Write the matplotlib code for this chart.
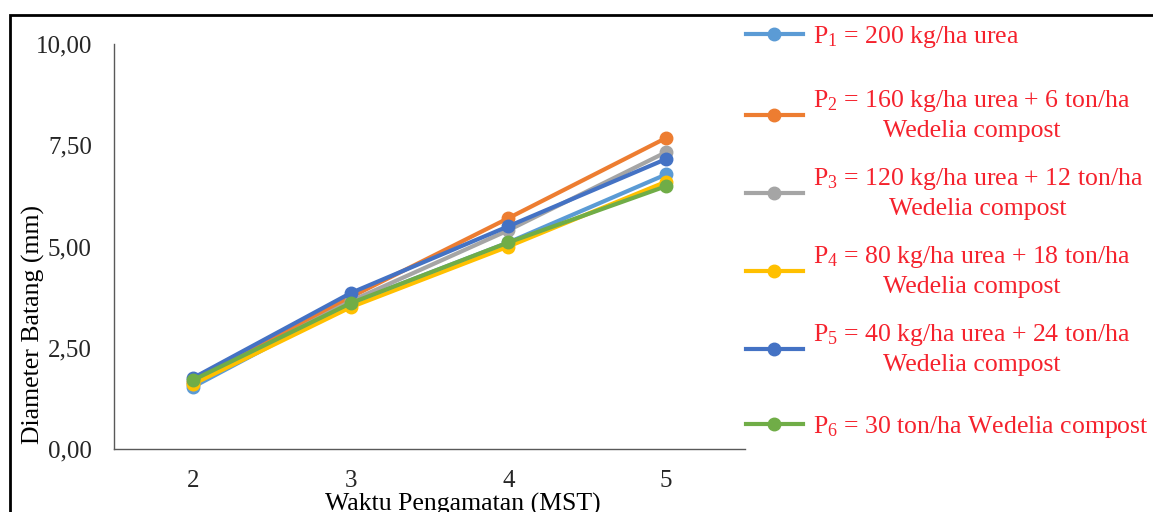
import numpy as np
import matplotlib.pyplot as plt
from matplotlib.patches import Rectangle

plt.rcParams['font.family'] = ['Liberation Serif', 'DejaVu Serif']
plt.rcParams['mathtext.fontset'] = 'custom'
plt.rcParams['mathtext.rm'] = 'Liberation Serif'
plt.rcParams['mathtext.it'] = 'Liberation Serif:italic'
plt.rcParams['mathtext.default'] = 'rm'

# data
weeks = ["2", "3", "4", "5"]
p1 = [1.53, 3.60, 5.10, 6.78]
p2 = [1.65, 3.75, 5.70, 7.68]
p3 = [1.60, 3.65, 5.40, 7.33]
p4 = [1.60, 3.50, 5.00, 6.60]
p5 = [1.75, 3.85, 5.50, 7.16]
p6 = [1.70, 3.60, 5.10, 6.49]
yticks = [0, 2.5, 5, 7.5, 10]
labels = ["P$_1$ = 200 kg/ha urea",
          "P$_2$ = 160 kg/ha urea + 6 ton/ha\nWedelia compost",
          "P$_3$ = 120 kg/ha urea + 12 ton/ha\nWedelia compost",
          "P$_4$ = 80 kg/ha urea + 18 ton/ha\nWedelia compost",
          "P$_5$ = 40 kg/ha urea + 24 ton/ha\nWedelia compost",
          "P$_6$ = 30 ton/ha Wedelia compost"]
colors = ["#5B9BD5", "#ED7D31", "#A5A5A5", "#FFC000", "#4472C4", "#70AD47"]

fig = plt.figure(figsize=(11.53, 5.12), dpi=100)
ax = fig.add_axes([114/1153, 63/512, 631/1153, 405/512])

x = np.arange(len(weeks))
handles = []
for vals, c in zip([p1, p2, p3, p4, p5, p6], colors):
    h, = ax.plot(x, vals, '-o', color=c, lw=3, ms=9)
    handles.append(h)

ax.set_xlim(-0.5, len(weeks) - 0.5)
ax.set_ylim(0, 10)
ax.set_xticks(x)
ax.set_xticklabels(weeks)
ax.set_yticks(yticks)
ax.set_yticklabels([f"{v:.2f}".replace('.', ',') for v in yticks])
ax.tick_params(length=0, labelsize=18, colors='#262626')
ax.tick_params(axis='x', pad=15)
ax.tick_params(axis='y', pad=16)
for s in ['top', 'right']:
    ax.spines[s].set_visible(False)
for s in ['left', 'bottom']:
    ax.spines[s].set_color('#595959')
    ax.spines[s].set_linewidth(1)

ax.set_xlabel("Waktu Pengamatan (MST)", fontsize=18.5)
ax.xaxis.set_label_coords((463 - 114) / 631, -(493 - 449) / 405)
ax.xaxis.label.set_va('top')
ax.set_ylabel("Diameter Batang (mm)", fontsize=18.5)
ax.yaxis.set_label_coords(-(114 - 45) / 631, (449 - 325) / 405)

# legend: one entry per slot, evenly spaced like the original
for i, (h, lab) in enumerate(zip(handles, labels)):
    yc = 1 - (37 + 78 * i) / 512
    leg = fig.legend([h], [lab], loc='center left',
                     bbox_to_anchor=(746/1153, yc), frameon=False,
                     fontsize=18.5, handlelength=2.2, handletextpad=0.4,
                     borderaxespad=0, borderpad=0)
    for t in leg.get_texts():
        t.set_color('#F5222D')
        t.set_multialignment('center')
        t.set_linespacing(1.3)

# outer frame (left and top edges visible)
fig.add_artist(Rectangle((10/1153, -0.1), 1.2, 1.1 - 15/512,
                         transform=fig.transFigure, fill=False,
                         edgecolor='black', lw=2))

plt.savefig("out.png", dpi=100)
